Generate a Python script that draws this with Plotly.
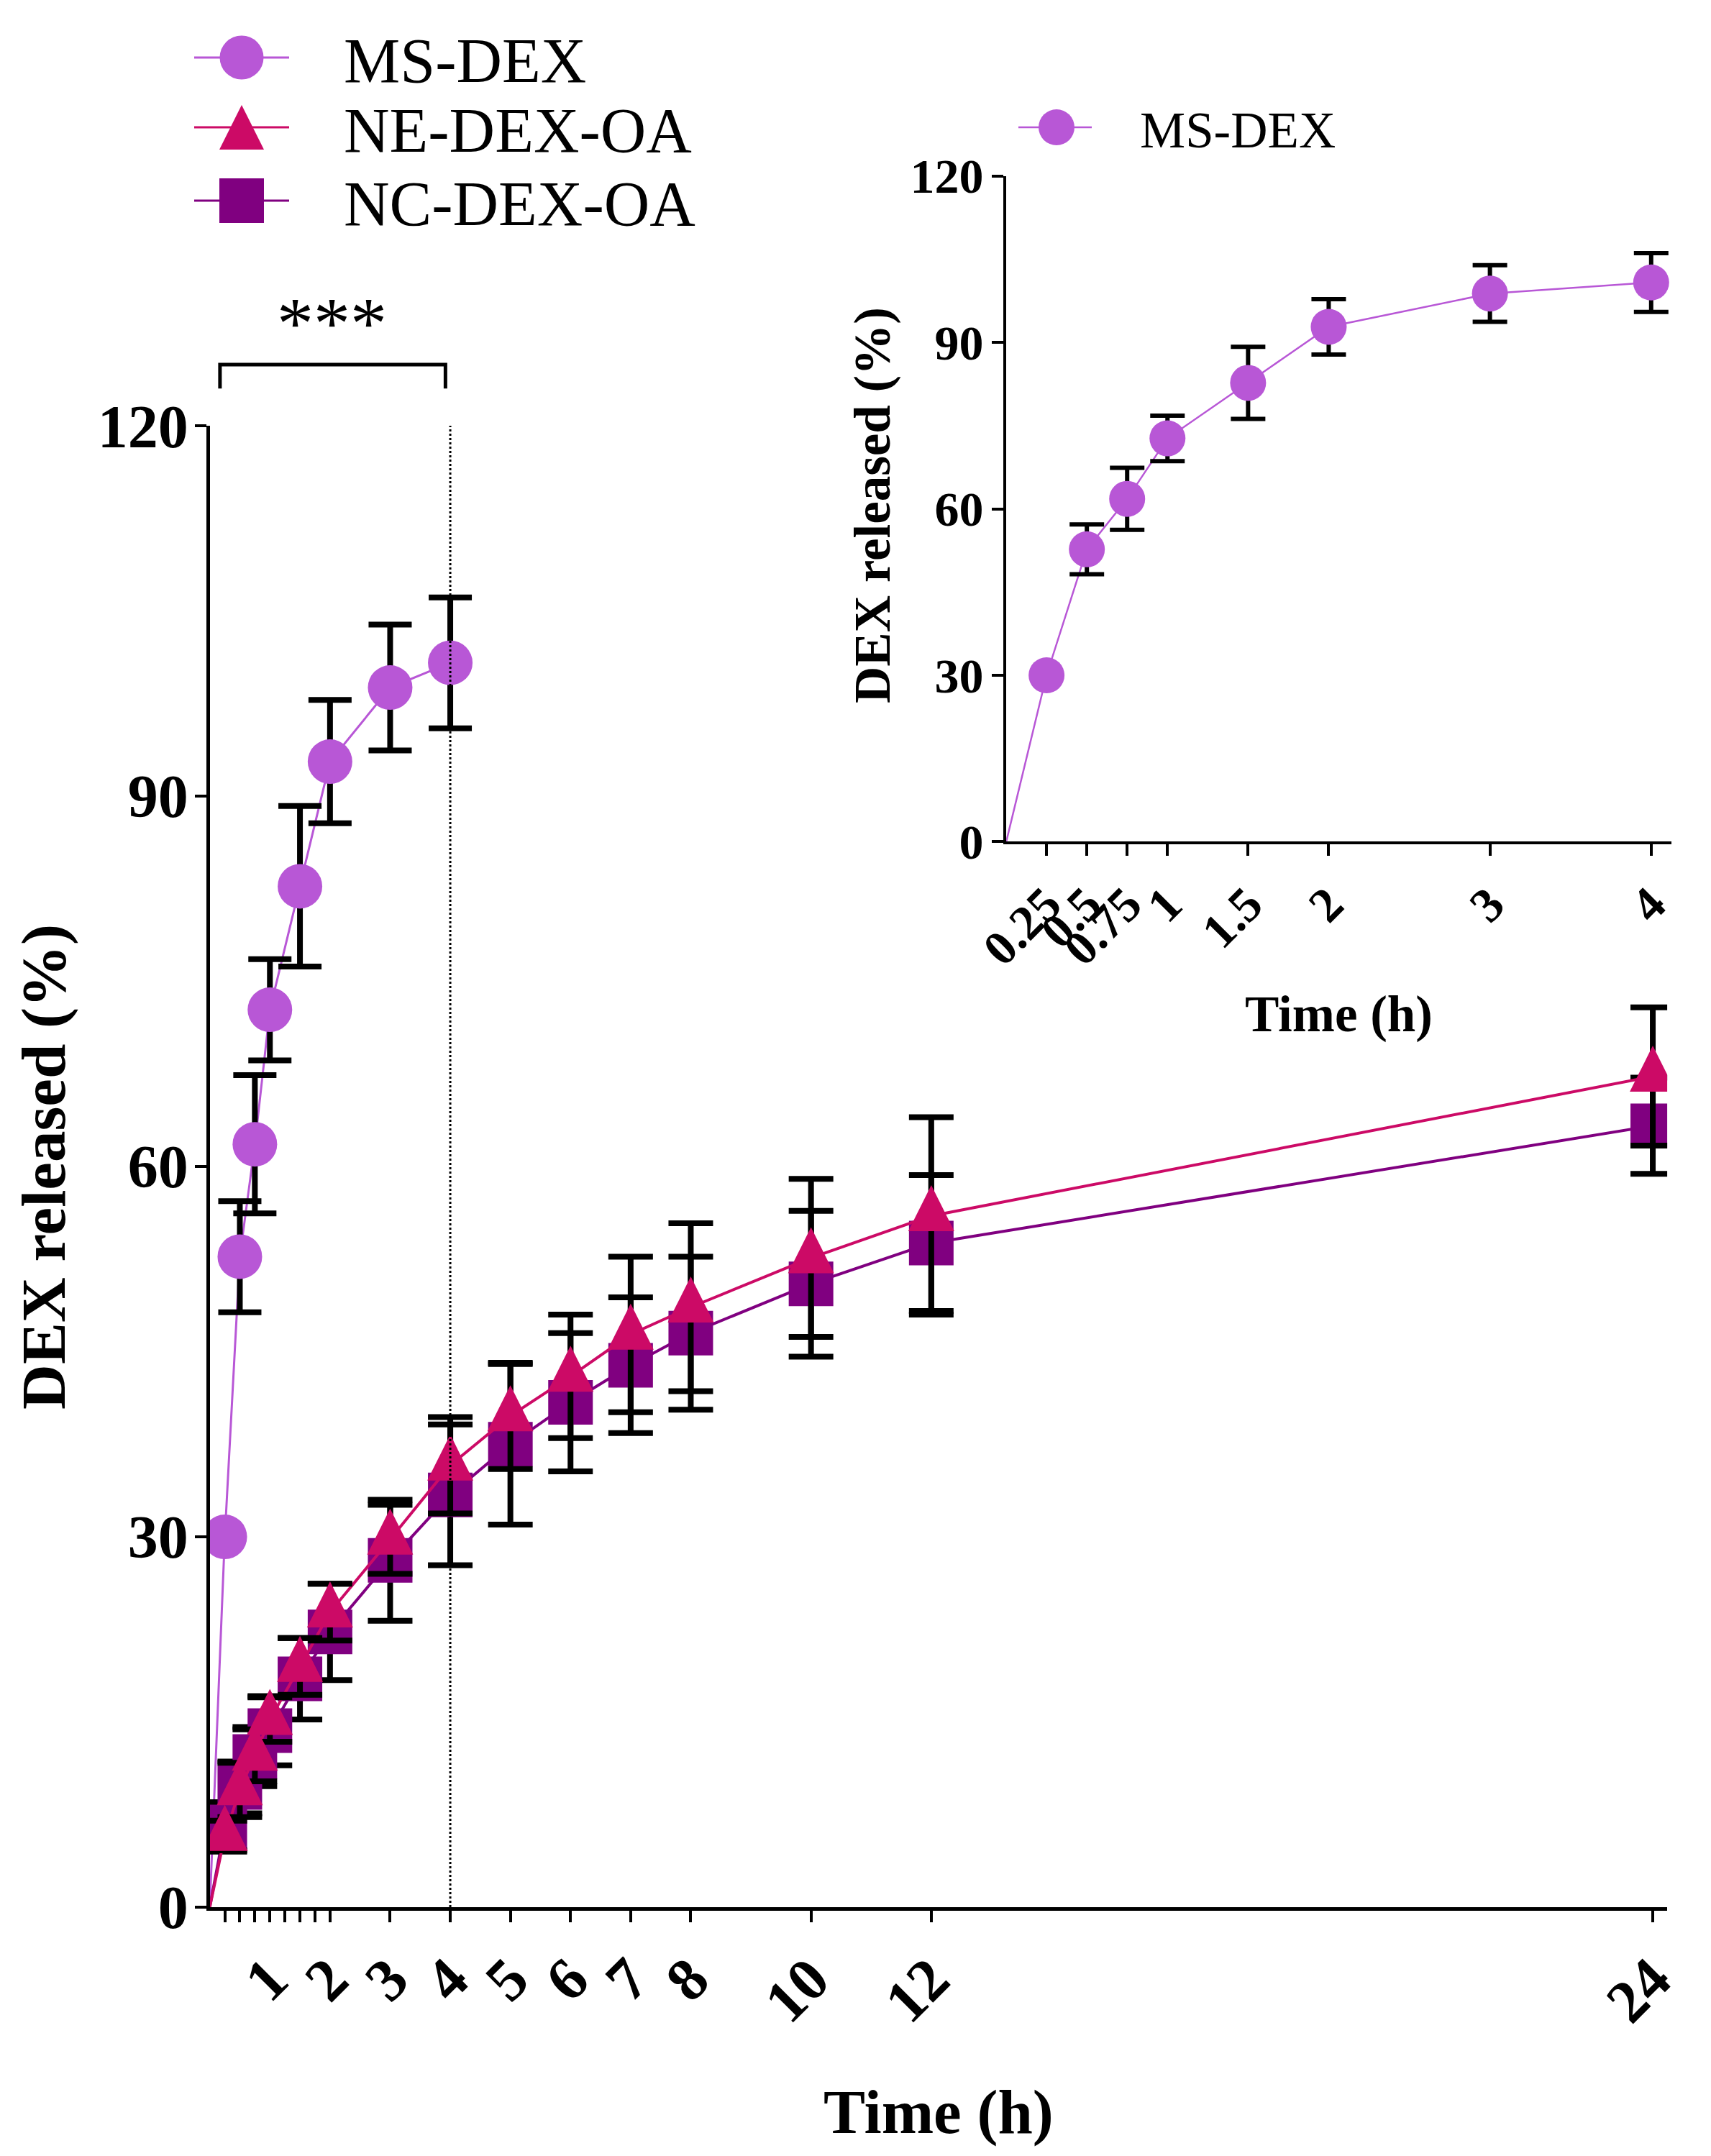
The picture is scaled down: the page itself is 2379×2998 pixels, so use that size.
import plotly.graph_objects as go

# ---- data ----
time_all = [0, 0.25, 0.5, 0.75, 1, 1.5, 2, 3, 4, 5, 6, 7, 8, 10, 12, 24]
time_ms = [0, 0.25, 0.5, 0.75, 1, 1.5, 2, 3, 4]

ms_dex = [0, 30.0, 52.7, 61.8, 72.7, 82.7, 92.8, 98.8, 100.8]
ms_dex_sd = [0, 0, 4.5, 5.6, 4.1, 6.5, 5.0, 5.1, 5.3]

ne_dex_oa = [0, 5.8, 9.5, 12.3, 15.2, 19.5, 23.9, 29.8, 35.8, 39.8, 43.0, 46.4, 48.6, 52.6, 56.0, 67.3]
ne_dex_oa_sd = [0, 1.2, 2.2, 2.1, 1.8, 2.3, 2.3, 2.8, 3.9, 4.3, 5.0, 6.3, 6.8, 6.4, 8.0, 5.6]

nc_dex_oa = [0, 6.5, 9.7, 12.2, 14.3, 18.5, 22.3, 28.1, 33.4, 37.5, 40.9, 43.9, 46.5, 50.5, 53.8, 63.3]
nc_dex_oa_sd = [0, 2.0, 2.1, 2.4, 2.8, 3.3, 3.9, 4.9, 5.7, 6.5, 5.6, 5.5, 6.2, 5.9, 5.5, 3.9]

main_tickvals = [0.25, 0.5, 0.75, 1, 1.25, 1.5, 1.75, 2, 3, 4, 5, 6, 7, 8, 10, 12, 24]
main_ticktext = ["", "", "", "1", "", "", "", "2", "3", "4", "5", "6", "7", "8", "10", "12", "24"]
inset_tickvals = [0.25, 0.5, 0.75, 1, 1.5, 2, 3, 4]
inset_ticktext = ["0.25", "0.5", "0.75", "1", "1.5", "2", "3", "4"]
y_tickvals = [0, 30, 60, 90, 120]

series_names = ["MS-DEX", "NE-DEX-OA", "NC-DEX-OA"]

# ---- style ----
W, H = 2379, 2998
SERIF = "Liberation Serif"
C_MS = "#B857D6"
C_NE = "#CC0A66"
C_NC = "#800080"


def add_series(fig, x, y, err, color, symbol, size, xa, ya, lw, eth, ew,
               angle=0, standoff=0):
    fig.add_trace(go.Scatter(
        x=x, y=y, mode="lines", xaxis=xa, yaxis=ya,
        line=dict(color=color, width=lw), hoverinfo="skip", showlegend=False
    ))
    fig.add_trace(go.Scatter(
        x=x[1:], y=y[1:], mode="markers", xaxis=xa, yaxis=ya,
        marker=dict(symbol=symbol, size=size, color=color, angle=angle,
                    standoff=standoff, line=dict(width=0)),
        error_y=dict(type="data", array=err[1:], color="black",
                     thickness=eth, width=ew),
        showlegend=False
    ))


fig = go.Figure()

# main panel
add_series(fig, time_ms, ms_dex, ms_dex_sd, C_MS, "circle", 62, "x", "y", 3, 8, 30)
add_series(fig, time_all, nc_dex_oa, nc_dex_oa_sd, C_NC, "square", 62, "x", "y", 4, 8, 31)
add_series(fig, time_all, ne_dex_oa, ne_dex_oa_sd, C_NE, "arrow-down", 64, "x", "y", 4, 8, 31,
           angle=180, standoff=64 * 2 / 3)

# inset
add_series(fig, time_ms, ms_dex, ms_dex_sd, C_MS, "circle", 50, "x2", "y2", 2.5, 6, 24)

# hand-made legends (plotly caps legend symbols at 16px)
legend_rows = [80, 177, 279]
legend_syms = [("circle", 61, C_MS, 0, 0), ("arrow-down", 62, C_NE, 180, 31), ("square", 62, C_NC, 0, 0)]
for name, yrow, (sym, sz, col, ang, so) in zip(series_names, legend_rows, legend_syms):
    fig.add_trace(go.Scatter(x=[270, 402], y=[yrow, yrow], mode="lines", xaxis="x3", yaxis="y3",
                             line=dict(color=col, width=3), hoverinfo="skip", showlegend=False))
    fig.add_trace(go.Scatter(x=[336], y=[yrow], mode="markers", xaxis="x3", yaxis="y3",
                             marker=dict(symbol=sym, size=sz, color=col, angle=ang, standoff=so),
                             hoverinfo="skip", showlegend=False))
    fig.add_annotation(x=476, y=yrow + 4, xref="x3", yref="y3", text=name, showarrow=False,
                       xanchor="left", yanchor="middle",
                       font=dict(family=SERIF, size=88, color="black"))

fig.add_trace(go.Scatter(x=[1416, 1518], y=[177, 177], mode="lines", xaxis="x3", yaxis="y3",
                         line=dict(color=C_MS, width=2.5), hoverinfo="skip", showlegend=False))
fig.add_trace(go.Scatter(x=[1469], y=[177], mode="markers", xaxis="x3", yaxis="y3",
                         marker=dict(symbol="circle", size=50, color=C_MS),
                         hoverinfo="skip", showlegend=False))
fig.add_annotation(x=1583, y=181, xref="x3", yref="y3", text=series_names[0], showarrow=False,
                   xanchor="left", yanchor="middle",
                   font=dict(family=SERIF, size=71, color="black"))

# dotted line at 4 h
fig.add_shape(type="line", x0=4, x1=4, y0=0, y1=120, xref="x", yref="y",
              line=dict(color="black", width=3, dash="dot"))

# significance bracket
fig.add_shape(type="path", xref="x", yref="y domain",
              path="M 0.17,1.0252 L 0.17,1.0413 L 3.92,1.0413 L 3.92,1.0252",
              line=dict(color="black", width=5))
fig.add_annotation(x=2.03, y=1.069, xref="x", yref="y domain", text="***", showarrow=False,
                   xanchor="center", yanchor="middle",
                   font=dict(family=SERIF, size=102, color="black"))

# axis titles
title_font_main = dict(family=SERIF, size=87, color="black", weight="bold")
title_font_inset = dict(family=SERIF, size=71, color="black", weight="bold")
fig.add_annotation(x=0.5, y=-0.138, xref="x domain", yref="y domain", text="Time (h)",
                   showarrow=False, xanchor="center", yanchor="middle", font=title_font_main)
fig.add_annotation(x=-0.1144, y=0.5, xref="x domain", yref="y domain", text="DEX released (%)",
                   showarrow=False, textangle=-90, xanchor="center", yanchor="middle",
                   font=title_font_main)
fig.add_annotation(x=0.5, y=-0.259, xref="x2 domain", yref="y2 domain", text="Time (h)",
                   showarrow=False, xanchor="center", yanchor="middle", font=title_font_inset)
fig.add_annotation(x=-0.2, y=0.505, xref="x2 domain", yref="y2 domain", text="DEX released (%)",
                   showarrow=False, textangle=-90, xanchor="center", yanchor="middle",
                   font=title_font_inset)

axis_common = dict(showline=True, linecolor="black", ticks="outside", tickcolor="black",
                   showgrid=False, zeroline=False, tickmode="array", automargin=False)
tick_main = dict(family=SERIF, size=84, color="black", weight="bold")
tick_inset = dict(family=SERIF, size=68, color="black", weight="bold")

fig.update_layout(
    template="none",
    width=W, height=H,
    margin=dict(l=0, r=0, t=0, b=0, pad=0),
    paper_bgcolor="white", plot_bgcolor="rgba(0,0,0,0)",
    showlegend=False,
    xaxis=dict(domain=[0.1226, 0.9744], range=[0, 24.24], anchor="y",
               linewidth=5, ticklen=16, tickwidth=4, tickvals=main_tickvals,
               ticktext=main_ticktext, tickangle=-45, tickfont=tick_main,
               ticklabelstandoff=-4, **axis_common),
    yaxis=dict(domain=[0.1154, 0.8025], range=[0, 120], anchor="x",
               linewidth=5, ticklen=16, tickwidth=4, tickvals=y_tickvals,
               ticklabelstandoff=-8, tickfont=tick_main, **axis_common),
    xaxis2=dict(domain=[0.5881, 0.9769], range=[0, 4.126], anchor="y2",
                linewidth=4, ticklen=16, tickwidth=4, tickvals=inset_tickvals,
                ticktext=inset_ticktext, tickangle=-45, tickfont=tick_inset, **axis_common),
    yaxis2=dict(domain=[0.6096, 0.9184], range=[0, 120], anchor="x2",
                linewidth=4, ticklen=16, tickwidth=4, tickvals=y_tickvals,
                ticklabelstandoff=-2, tickfont=tick_inset, **axis_common),
    xaxis3=dict(domain=[0, 1], range=[0, W], anchor="y3", visible=False,
                fixedrange=True, automargin=False),
    yaxis3=dict(domain=[0, 1], range=[H, 0], anchor="x3", visible=False,
                fixedrange=True, automargin=False),
)

fig.write_html("out.html", config={"displayModeBar": False},
               post_script="document.body.style.margin='0';")
